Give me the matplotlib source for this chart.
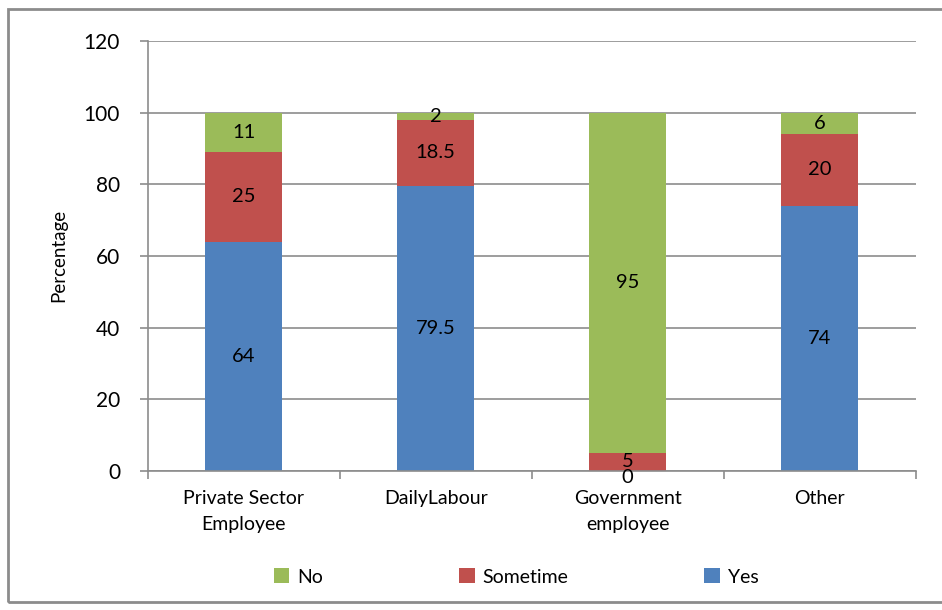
import matplotlib.pyplot as plt
import numpy as np
from matplotlib.patches import Rectangle

categories = ["Private Sector\nEmployee", "DailyLabour", "Government\nemployee", "Other"]
yes = [64, 79.5, 0, 74]
sometime = [25, 18.5, 5, 20]
no = [11, 2, 95, 6]

blue = "#4F81BD"
red = "#C0504D"
green = "#9BBB59"

plt.rcParams["font.family"] = ["Lato", "DejaVu Sans"]

fig = plt.figure(figsize=(9.42, 6.1), dpi=100)
ax = fig.add_axes([0.157, 0.228, 0.815, 0.705])

x = np.arange(len(categories))
w = 0.4
b1 = ax.bar(x, yes, w, color=blue, label="Yes", zorder=2)
b2 = ax.bar(x, sometime, w, bottom=yes, color=red, label="Sometime", zorder=2)
bottom3 = [a + b for a, b in zip(yes, sometime)]
b3 = ax.bar(x, no, w, bottom=bottom3, color=green, label="No", zorder=2)

# value labels in the middle of each segment
for i in range(len(categories)):
    for val, base in [(yes[i], 0), (sometime[i], yes[i]), (no[i], bottom3[i])]:
        ypos = base + val / 2
        if val == 0:
            ypos -= 1.8
        ax.text(x[i], ypos, f"{val:g}", ha="center", va="center",
                fontsize=14.5, color="black", zorder=3)

ax.set_xlim(-0.5, len(categories) - 0.5)
ax.set_ylim(0, 120)
ax.set_yticks(range(0, 121, 20))
ax.yaxis.grid(True, color="#8c8c8c", linewidth=1.2, zorder=0)
ax.set_axisbelow(True)

ax.set_xticks(x)
ax.set_xticklabels(categories, fontsize=14, linespacing=1.6)
ax.tick_params(axis="x", length=0, pad=14)
ax.set_xticks(np.arange(-0.5, len(categories), 1), minor=True)
ax.tick_params(axis="x", which="minor", length=6, color="#8c8c8c", width=1.2)
ax.tick_params(axis="y", labelsize=15, length=6, color="#8c8c8c", width=1.2, pad=14)

for side in ["top", "right"]:
    ax.spines[side].set_visible(False)
for side in ["left", "bottom"]:
    ax.spines[side].set_color("#8c8c8c")
    ax.spines[side].set_linewidth(1.2)

ax.set_ylabel("Percentage", fontsize=13.5, labelpad=12)

handles = [b3, b2, b1]
fig.legend(handles, ["No", "Sometime", "Yes"], loc="center", bbox_to_anchor=(0.548, 0.054),
           ncol=3, frameon=False, fontsize=14, handlelength=0.8, handleheight=0.8,
           columnspacing=7, handletextpad=0.4)

fig.patches.append(Rectangle((8 / 942, 8 / 610), 1, 1 - 17 / 610, transform=fig.transFigure,
                             fill=False, edgecolor="#8c8c8c", linewidth=2))

fig.savefig("out.png", dpi=100)
